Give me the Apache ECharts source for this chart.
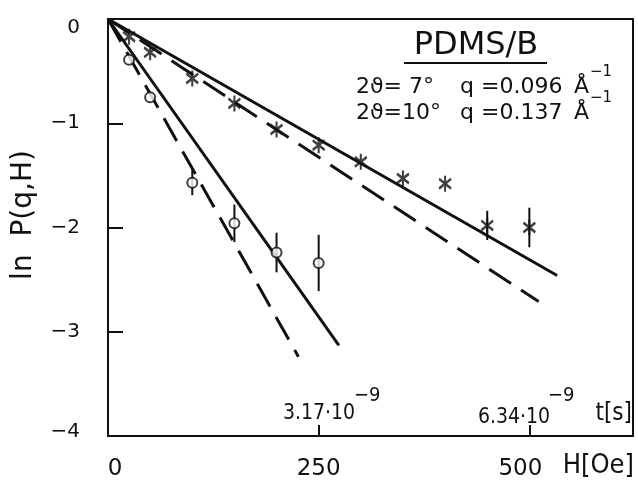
<!DOCTYPE html>
<html>
<head>
<meta charset="utf-8">
<script src="https://cdn.jsdelivr.net/npm/echarts@6/dist/echarts.min.js"></script>
<style>
  html, body { margin: 0; background: #fff; }
  #chart { width: 638px; height: 481px; }
</style>
</head>
<body>
<div id="chart"></div>
<script>
// 2theta = 10 deg, q = 0.137 (open circles)
var fieldA = [25, 50, 100, 150, 200, 250];
var lnPA = [-0.39, -0.75, -1.57, -1.96, -2.24, -2.34];
var errA = [0, 0, 0.12, 0.18, 0.19, 0.27];
// 2theta = 7 deg, q = 0.096 (stars)
var fieldB = [25, 50, 100, 150, 200, 250, 300, 350, 400, 450, 500];
var lnPB = [-0.17, -0.32, -0.57, -0.81, -1.06, -1.21, -1.37, -1.53, -1.58, -1.98, -2.00];
var errB = [0, 0, 0, 0, 0, 0, 0, 0, 0, 0.14, 0.19];
// fitted lines, end points [H, lnP]
var fitASolid = [[0, 0], [274, -3.13]];
var fitADash = [[0, 0], [226, -3.24]];
var fitBSolid = [[0, 0], [533, -2.46]];
var fitBDash = [[0, 0], [511, -2.71]];
var xTicks = ['0', '250', '500'];

var ink = '#111';
var font = '"DejaVu Sans"';
var cond = '"DejaVu Sans Condensed", "DejaVu Sans"';
var chart = echarts.init(document.getElementById('chart'));

function pairs(xs, ys) {
  return xs.map(function (x, i) { return [x, ys[i]]; });
}

function errorBars(xs, ys, es) {
  return {
    type: 'custom',
    data: xs.map(function (x, i) { return [x, ys[i], es[i]]; }),
    encode: { x: 0, y: 1 },
    z: 3,
    silent: true,
    renderItem: function (params, api) {
      var top = api.coord([api.value(0), api.value(1) + api.value(2)]);
      var bot = api.coord([api.value(0), api.value(1) - api.value(2)]);
      return {
        type: 'line',
        shape: { x1: top[0], y1: top[1], x2: bot[0], y2: bot[1] },
        style: { stroke: ink, lineWidth: 2 }
      };
    }
  };
}

function fitLine(pts, dashed) {
  return {
    type: 'line',
    data: pts,
    symbol: 'none',
    z: 2,
    silent: true,
    lineStyle: { color: ink, width: 3, type: dashed ? [26, 12] : 'solid' }
  };
}

function txt(x, y, s, size, fam, align) {
  return {
    type: 'text', x: x, y: y, silent: true,
    style: { text: s, font: size + 'px ' + (fam || font), fill: ink, textAlign: align || 'left', textVerticalAlign: 'middle' }
  };
}

var star = 'path://M0,-10L0,10M-8,-6L8,6M-8,6L8,-6';

var option = {
  backgroundColor: '#fff',
  animation: false,
  grid: { left: 108, right: 5, top: 19, bottom: 45, show: true, borderColor: ink, borderWidth: 2 },
  xAxis: {
    type: 'value', min: 0, max: 623, interval: 250,
    splitLine: { show: false },
    axisLine: { onZero: false, lineStyle: { color: ink, width: 2 } },
    axisTick: { inside: true, length: 11, lineStyle: { color: ink, width: 2 } },
    axisLabel: {
      margin: 22, color: ink,
      formatter: function (v) {
        var i = xTicks.indexOf(String(v));
        return i < 0 ? '' : '{t' + i + '|' + xTicks[i] + '}';
      },
      rich: {
        t0: { fontFamily: 'DejaVu Sans', fontSize: 23, color: ink, padding: [0, 0, 0, 14] },
        t1: { fontFamily: 'DejaVu Sans', fontSize: 23, color: ink },
        t2: { fontFamily: 'DejaVu Sans', fontSize: 23, color: ink, padding: [0, 18, 0, 0] }
      }
    }
  },
  yAxis: {
    type: 'value', min: -4, max: 0, interval: 1,
    splitLine: { show: false },
    axisLine: { lineStyle: { color: ink, width: 2 } },
    axisTick: { inside: true, length: 15, lineStyle: { color: ink, width: 2 } },
    axisLabel: {
      margin: 28, color: ink,
      formatter: function (v) {
        return v === 0 ? '{z|0}' : v === -4 ? '{b|\u2212' + (-v) + '}' : '{n|\u2212' + (-v) + '}';
      },
      rich: {
        z: { fontFamily: 'DejaVu Sans', fontSize: 20, color: ink, padding: [18, 0, 0, 0] },
        n: { fontFamily: 'DejaVu Sans', fontSize: 20, color: ink },
        b: { fontFamily: 'DejaVu Sans', fontSize: 20, color: ink, padding: [0, 0, 8, 0] }
      }
    }
  },
  series: [
    fitLine(fitASolid, false),
    fitLine(fitADash, true),
    fitLine(fitBSolid, false),
    fitLine(fitBDash, true),
    errorBars(fieldA, lnPA, errA),
    errorBars(fieldB, lnPB, errB),
    {
      type: 'scatter', data: pairs(fieldA, lnPA), z: 4,
      symbol: 'circle', symbolSize: 10,
      itemStyle: { color: '#fff', borderColor: ink, borderWidth: 2 }
    },
    {
      type: 'scatter', data: pairs(fieldB, lnPB), z: 4,
      symbol: star, symbolSize: [12, 16],
      itemStyle: { color: 'none', borderColor: ink, borderWidth: 2.4 }
    }
  ],
  graphic: [
    txt(476, 46, 'PDMS/B', 32, font, 'center'),
    { type: 'line', silent: true, shape: { x1: 404, y1: 63, x2: 547, y2: 63 }, style: { stroke: ink, lineWidth: 2 } },
    txt(356, 87, '2\u03d1= 7\u00b0', 22),
    txt(460, 87, 'q =0.096', 22),
    txt(574, 87, '\u00c5', 22),
    txt(590, 72, '\u22121', 15),
    txt(356, 113, '2\u03d1=10\u00b0', 22),
    txt(460, 113, 'q =0.137', 22),
    txt(574, 113, '\u00c5', 22),
    txt(590, 98, '\u22121', 15),
    txt(283, 414, '3.17\u00b710', 21, cond),
    txt(354, 396, '\u22129', 20, cond),
    txt(478, 418, '6.34\u00b710', 21, cond),
    txt(548, 396, '\u22129', 20, cond),
    txt(632, 414, 't[s]', 24, cond, 'right'),
    txt(634, 466, 'H[Oe]', 27, cond, 'right'),
    {
      type: 'text', x: 24, y: 215, rotation: Math.PI / 2, silent: true,
      style: { text: 'ln  P(q,H)', font: '28px ' + font, fill: ink, textAlign: 'center', textVerticalAlign: 'middle' }
    }
  ]
};

chart.setOption(option);
</script>
</body>
</html>
